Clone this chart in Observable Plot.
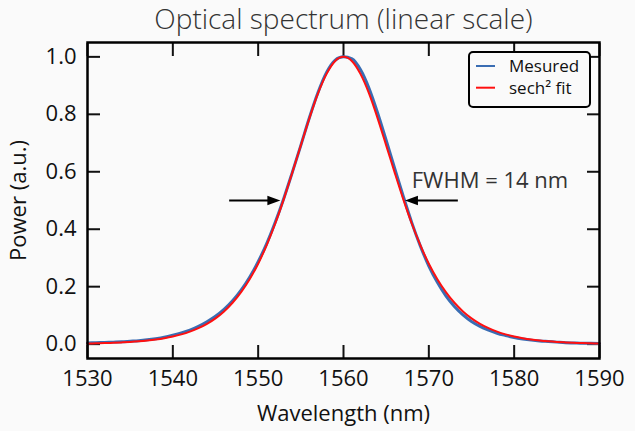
<!DOCTYPE html>
<html>
<head>
<meta charset="utf-8">
<script src="https://cdn.jsdelivr.net/npm/d3@7"></script>
<script src="https://cdn.jsdelivr.net/npm/@observablehq/plot@0.6"></script>
<style>
  html, body { margin: 0; padding: 0; background: #fafafa; }
  #wrap { position: relative; width: 635px; height: 431px; font-family: "Open Sans", sans-serif; }
  #legend { position: absolute; left: 468px; top: 51px; }
</style>
</head>
<body>
<div id="wrap"><div id="chart"></div><div id="legend"></div></div>
<script>
const wavelength = [1530,1531,1532,1533,1534,1535,1536,1537,1538,1539,1540,1541,1542,1543,1544,1545,1546,1547,1548,1549,1550,1551,1552,1553,1554,1555,1556,1557,1558,1559,1560,1561,1562,1563,1564,1565,1566,1567,1568,1569,1570,1571,1572,1573,1574,1575,1576,1577,1578,1579,1580,1581,1582,1583,1584,1585,1586,1587,1588,1589,1590];
const measured = [0.004,0.005,0.006,0.007,0.008,0.010,0.012,0.015,0.019,0.024,0.031,0.039,0.049,0.062,0.078,0.097,0.121,0.151,0.188,0.233,0.287,0.350,0.424,0.507,0.598,0.692,0.788,0.875,0.945,0.988,1.000,0.993,0.955,0.890,0.805,0.710,0.612,0.515,0.423,0.342,0.272,0.215,0.168,0.131,0.102,0.079,0.062,0.049,0.038,0.030,0.023,0.018,0.014,0.011,0.009,0.007,0.005,0.004,0.003,0.003,0.002];
const sechFit = [0.0022,0.0028,0.0036,0.0047,0.0060,0.0077,0.0099,0.0127,0.0162,0.0208,0.0266,0.0340,0.0435,0.0555,0.0707,0.0898,0.114,0.144,0.181,0.226,0.280,0.345,0.420,0.505,0.597,0.692,0.786,0.872,0.940,0.985,1.000,0.985,0.940,0.872,0.786,0.692,0.597,0.505,0.420,0.345,0.280,0.226,0.181,0.144,0.114,0.0898,0.0707,0.0555,0.0435,0.0340,0.0266,0.0208,0.0162,0.0127,0.0099,0.0077,0.0060,0.0047,0.0036,0.0028,0.0022];
const xTicks = [1530,1540,1550,1560,1570,1580,1590];
const yTicks = [0.0,0.2,0.4,0.6,0.8,1.0];
const seriesNames = ["Mesured", "sech² fit"];
const seriesColors = ["#3a6db3", "#ff1010"];
const titleText = "Optical spectrum (linear scale)";
const xLabel = "Wavelength (nm)";
const yLabel = "Power (a.u.)";
const fwhmText = "FWHM = 14 nm";
// arrows: [start wavelength, tip wavelength, level]
const arrows = [[1546.6, 1552.6, 0.5], [1573.4, 1567.2, 0.5]];
const fwhmLabelPos = [1568.0, 0.542];

const measuredData = wavelength.map((w, i) => ({w, p: measured[i]}));
const fitData = wavelength.map((w, i) => ({w, p: sechFit[i]}));
const arrowData = arrows.map(([a, b, y]) => ({x1: a, x2: b, y, dir: b > a ? 1 : -1}));

const headRight = {draw(ctx) { ctx.moveTo(0, 0); ctx.lineTo(-13, -4.7); ctx.lineTo(-13, 4.7); ctx.closePath(); }};
const headLeft = {draw(ctx) { ctx.moveTo(0, 0); ctx.lineTo(13, -4.7); ctx.lineTo(13, 4.7); ctx.closePath(); }};

const tickLen = -13;
const plot = Plot.plot({
  width: 635,
  height: 431,
  marginLeft: 87,
  marginRight: 36,
  marginTop: 42,
  marginBottom: 73,
  style: {background: "#fafafa", fontFamily: "'Open Sans', sans-serif", fontSize: "23px", color: "#111", overflow: "visible"},
  x: {domain: [1530, 1590], label: null},
  y: {domain: [-0.05, 1.05], label: null},
  marks: [
    Plot.axisX(xTicks, {anchor: "bottom", tickSize: 0, tickPadding: 12, tickFormat: d => String(d), fontSize: 22, label: xLabel, labelAnchor: "center", labelOffset: 62, labelArrow: "none"}),
    Plot.axisX(xTicks, {anchor: "bottom", tickSize: tickLen, strokeWidth: 2, tickFormat: () => "", label: null}),
    Plot.axisX(xTicks, {anchor: "top", tickSize: tickLen, strokeWidth: 2, tickFormat: () => "", label: null}),
    Plot.axisY(yTicks, {anchor: "left", tickSize: 0, tickPadding: 11, tickFormat: d3.format(".1f"), fontSize: 22, label: yLabel, labelAnchor: "center", labelOffset: 77, labelArrow: "none"}),
    Plot.axisY(yTicks, {anchor: "left", tickSize: tickLen, strokeWidth: 2, tickFormat: () => "", label: null}),
    Plot.axisY(yTicks, {anchor: "right", tickSize: tickLen, strokeWidth: 2, tickFormat: () => "", label: null}),
    Plot.line(measuredData, {x: "w", y: "p", stroke: seriesColors[0], strokeWidth: 3, curve: "monotone-x"}),
    Plot.line(fitData, {x: "w", y: "p", stroke: seriesColors[1], strokeWidth: 2, curve: "monotone-x"}),
    Plot.link(arrowData, {x1: "x1", x2: d => d.x2 - d.dir * 1.0, y1: "y", y2: "y", stroke: "#000", strokeWidth: 2}),
    Plot.dot(arrowData.filter(d => d.dir > 0), {x: "x2", y: "y", symbol: headRight, fill: "#000", stroke: "none"}),
    Plot.dot(arrowData.filter(d => d.dir < 0), {x: "x2", y: "y", symbol: headLeft, fill: "#000", stroke: "none"}),
    Plot.text([fwhmText], {x: fwhmLabelPos[0], y: fwhmLabelPos[1], textAnchor: "start", lineAnchor: "bottom", fontSize: 22, fill: "#333"}),
    Plot.text([titleText], {frameAnchor: "top", dy: -14, lineAnchor: "bottom", fontSize: 28, fontWeight: 300, fill: "#333"}),
    Plot.frame({stroke: "#000", strokeWidth: 2.5})
  ]
});
document.getElementById("chart").appendChild(plot);

// legend
const lg = d3.select("#legend").append("svg").attr("width", 124).attr("height", 58)
  .style("font-family", "'Open Sans', sans-serif");
lg.append("rect").attr("x", 1).attr("y", 1).attr("width", 121).attr("height", 55).attr("rx", 4)
  .attr("fill", "#fafafa").attr("stroke", "#000").attr("stroke-width", 2);
seriesNames.forEach((name, i) => {
  const cy = 15 + i * 21.7;
  lg.append("line").attr("x1", 8).attr("x2", 27).attr("y1", cy).attr("y2", cy)
    .attr("stroke", seriesColors[i]).attr("stroke-width", 2);
  lg.append("text").attr("x", 41).attr("y", cy + 6).attr("font-size", 17).attr("fill", "#111").text(name);
});
</script>
</body>
</html>
